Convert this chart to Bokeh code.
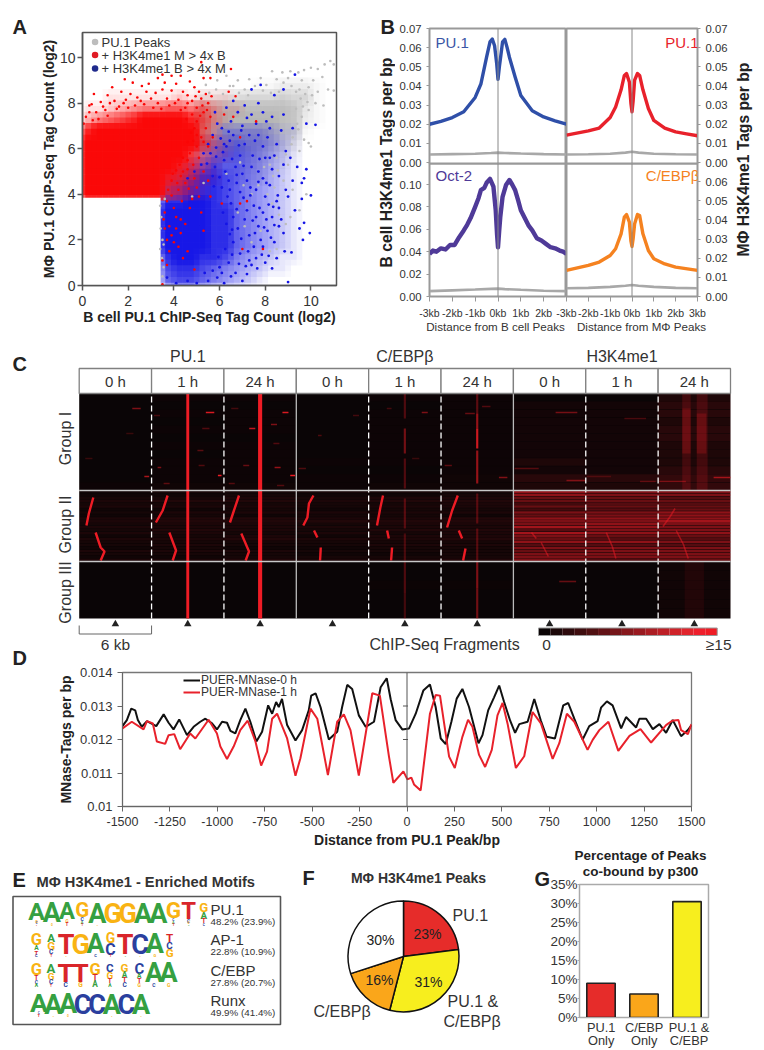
from math import pi
from bokeh.plotting import figure
from bokeh.layouts import column, row
from bokeh.models import (Label, Span, FixedTicker, NumeralTickFormatter, Legend, LegendItem,
                          ColumnDataSource, Range1d)
from bokeh.core.properties import value
from bokeh.embed import file_html
from bokeh.resources import INLINE

FONT = "Liberation Sans"
TXT = "#333333"
ORIGIN = {}

a_y_edges = [0, .5, 1, 1.5, 2, 2.5, 3, 3.5, 3.85, 4.5, 5, 5.5, 6, 6.5, 7, 7.5, 8, 8.5, 9]
a_gray = ["0000000000000001122210", "0000000000223455565510", "0000000000678888887310", "0000000000889999987210",
          "0000000000889999876100", "0000000000889998753000", "0000000000245666421000", "0000000000123344210000",
          "0000000000001223100000", "0000000000000000000000", "0000000000000000000000", "0000000000000000000000",
          "0000000000000000000000", "0000000000000000000000", "0000000000000000000000", "0000000000000000000000",
          "0000000000000000000000", "0000000000000000000000"]
a_red = ["0000000000000000000000", "0011111121111000000000", "1123455665531100000000", "3567899998631000000000",
         "8999999999520000000000", "9999999999631000000000", "9999999997421000000000", "9999999986310000000000",
         "9999999875210000000000", "9999999653100000000000", "0000000000000000000000", "0000000000000000000000",
         "0000000000000000000000", "0000000000000000000000", "0000000000000000000000", "0000000000000000000000",
         "0000000000000000000000", "0000000000000000000000"]
a_blue = ["0000000000000000000000", "0000000000000000000000", "0000000000000000000000", "0000000000000000000000",
          "0000000000013333211000", "0000000000234544321000", "0000000001356654321000", "0000000025676654321000",
          "0000000357887654321000", "0000000678887654321000", "0000000889987654321000", "0000000999988654321000",
          "0000000999988654321000", "0000000999988654321000", "0000000999988654321000", "0000000899887543211000",
          "0000000788765432110000", "0000000677654321000000"]
red_pts = [(5.2,9.8),(6.5,9.5),(3.5,9.25),(3.9,9.2),(4.3,9.2),(5.3,9.1),(5.6,9.1),(1.85,9.05),(2.2,8.9),(3.3,9.1),
           (2.9,8.85),(1.3,8.7),(2.6,8.75),(3.6,8.9),(4.1,8.85),(4.7,8.95),(4.9,8.7),(0.5,8.4),(1.1,8.35),(1.7,8.5),
           (2.1,8.4),(2.8,8.5),(3.2,8.45),(3.5,8.6),(3.9,8.55),(4.4,8.5),(4.6,8.35),(5.1,8.5),(5.4,8.4),(0.3,7.9),
           (0.8,8.05),(1.4,8.1),(1.9,8.15),(2.4,8.25),(3.0,8.2),(3.7,8.2),(4.2,8.15),(4.8,8.1),(5.2,8.2),(5.5,8.0),
           (0.15,7.4),(0.05,7.1),(0.6,7.6),(1.0,7.7),(1.6,7.85),(4.5,7.8),(5.0,7.8),(5.3,7.6),(5.6,7.4),(5.0,7.2),
           (4.9,6.9),(5.4,6.9),(5.7,6.5),(6.2,7.5),(6.6,7.4),(5.2,6.5),(5.5,6.1),(5.0,6.1),(4.7,5.8),(5.1,5.6),
           (6.4,8.5),(6.7,8.3),(7.6,7.2),(6.9,6.5),(4.6,5.1),(5.3,5.0),(4.3,4.8),(4.5,4.5),(4.9,4.7),(3.9,4.6),
           (4.2,4.2),(3.7,3.7),(4.0,3.4),(3.6,3.2),(3.55,2.9),(3.8,2.6),(4.1,3.0),(4.3,2.9),(4.5,2.7),(3.9,2.2),
           (3.6,2.5),(4.3,2.3),(4.0,1.9),(4.2,1.7),(4.6,1.5),(3.8,1.5),(3.5,1.1),(3.7,0.9),(4.4,1.2),(3.5,0.05),
           (5.1,3.9),(5.6,3.9),(6.1,3.6),(6.9,3.6),(7.2,3.7),(5.3,2.4),(7.0,1.6),(7.9,1.6),(4.7,3.4),(4.9,0.7),
           (0.4,7.95),(0.9,7.85),(1.2,8.0),(1.5,7.75),(1.8,8.0),(2.0,7.8),(2.3,7.9),(2.55,8.1),(2.7,7.95),(3.1,7.8),
           (3.3,8.0),(3.45,7.75),(3.8,7.9),(4.05,8.0),(4.3,7.7),(4.6,8.0),(4.95,8.3),(5.25,7.9),(5.45,7.7),(5.65,8.3),
           (0.7,7.3),(1.1,7.45),(0.3,7.6),(0.45,7.25),(4.55,7.3),(4.8,7.5),(5.15,7.45),(4.75,6.7),(5.0,6.6),(5.3,6.3),
           (4.6,6.3),(4.85,6.35),(4.4,5.6),(4.6,5.5),(4.85,5.3),(4.25,5.3),(4.1,5.05),(4.4,5.0),(3.95,4.9),(4.15,4.5),
           (4.65,4.25),(5.0,4.3),(5.5,4.6),(3.75,4.2),(3.9,3.95),(4.35,3.7),(4.8,3.8),(5.2,3.2),(3.7,2.0),(4.1,2.5)]
blue_pts = [(9.3,9.25),(8.8,8.6),(8.4,8.35),(7.8,8.8),(7.4,8.6),(7.7,8.0),(6.6,8.1),(7.1,7.9),(6.3,7.8),(5.8,7.6),
            (7.4,7.5),(8.3,7.4),(8.8,7.5),(10.2,7.05),(9.8,7.1),(9.2,6.9),(8.7,6.8),(8.2,6.9),(7.7,6.6),(8.5,6.2),
            (8.9,5.9),(9.1,5.6),(8.8,5.3),(8.3,5.1),(8.0,5.6),(8.6,4.8),(9.2,4.6),(9.6,4.5),(9.8,5.1),(9.7,4.7),
            (10.0,3.95),(9.6,3.8),(9.3,3.3),(9.0,3.9),(8.6,3.4),(8.7,2.9),(8.3,3.0),(8.8,2.3),(8.4,1.9),(8.1,2.4),
            (9.7,2.75),(9.5,2.5),(9.95,2.3),(9.65,2.0),(9.15,1.45),(8.85,1.5),(8.5,1.2),(8.3,0.75),(9.0,0.15),(7.9,1.7),
            (7.6,1.2),(7.4,0.9),(7.2,0.5),(7.0,0.2),(6.7,0.55),(6.2,0.1),(5.9,0.35),(6.4,1.0),(6.9,1.4),(7.3,2.2),
            (7.7,2.6),(7.9,3.2),(7.5,3.5),(8.0,3.9),(7.6,4.2),(7.2,4.6),(7.9,4.7),(7.4,5.2),(6.9,5.7),(7.1,6.2),
            (6.6,6.6),(6.1,6.9),(5.7,6.6),(5.5,6.2),(5.3,5.8),(6.3,6.1),(6.7,5.2),(6.4,4.6),(6.9,4.1),(6.5,3.6),
            (5.8,5.2),(5.2,5.3),(4.9,5.0),(4.6,4.7),(7.8,2.0),(7.1,2.9),(6.8,2.5),(7.5,1.7),(6.6,1.9),(6.3,2.7),
            (8.2,4.4),(8.9,4.2),(8.4,5.7),(7.9,6.1),(8.1,6.5),(7.0,7.0),(6.5,7.2),(7.6,7.1),(5.9,7.1),(6.8,7.6),
            (7.3,1.1),(6.5,0.4),(6.0,0.8),(5.5,0.2),(5.0,0.1),(4.6,0.2),(4.1,0.1),(3.7,0.35),(8.0,1.0),(8.6,2.6),
            (7.2,3.3),(6.2,5.5),(5.6,5.8),(6.1,4.3),(5.7,4.8),(7.7,5.0),(8.5,3.7),(9.4,5.2),(7.0,4.9),(6.6,3.0),
            (6.15,3.2),(6.35,3.9),(6.75,4.5),(7.05,3.85),(7.35,3.95),(6.55,1.35),(6.85,0.95),(6.25,1.6),(6.45,2.25),(6.95,2.05),
            (7.25,1.5),(7.55,2.3),(7.15,0.85),(7.65,0.75),(7.85,1.35),(8.15,1.3),(8.25,2.1),(8.05,2.9),(7.45,2.85),(7.75,3.4),
            (8.35,3.45),(8.15,3.55),(7.35,4.3),(7.05,5.25),(6.55,5.55),(6.25,5.0),(6.75,4.85),(7.45,5.7),(7.75,5.55),(6.15,5.85),
            (6.45,6.35),(6.85,6.15),(7.3,6.6),(5.85,6.05),(6.05,6.45),(5.45,5.35),(5.85,5.65),(6.0,4.75),(5.75,4.35),(6.45,4.2),
            (5.95,1.25),(6.1,0.55),(5.7,0.65),(5.35,0.55),(6.75,3.35),(6.55,2.45),(7.6,3.0),(7.95,2.55),(8.4,2.65),(8.55,3.95),
            (8.05,4.5),(7.7,4.55),(8.2,5.6),(7.55,6.35),(6.2,6.2),(6.95,6.8),(7.2,7.35),(6.4,6.75),(7.9,7.6),(8.05,7.2)]
gray_pts = [(10.85,9.85),(10.6,9.7),(11.0,9.7),(10.3,9.5),(10.0,9.55),(9.7,9.45),(9.45,9.35),(9.1,9.4),(8.75,9.35),(8.3,9.4),
            (8.5,9.05),(9.0,9.1),(9.6,9.0),(10.1,9.0),(10.5,9.15),(10.75,8.6),(11.0,8.55),(10.3,8.5),(9.9,8.7),(9.5,8.6),
            (7.8,9.1),(7.3,9.05),(6.8,9.0),(6.3,9.2),(5.9,9.0),(5.4,8.8),(6.6,8.75),(7.1,8.6),(7.9,8.55),(8.6,8.5),
            (10.2,8.0),(9.9,7.7),(9.6,7.4),(9.4,7.1),(9.2,6.5),(9.7,6.4),(10.0,6.1),(9.9,6.25),(9.5,5.9),(9.0,5.3),
            (9.2,4.2),(8.8,4.6),(8.5,5.6),(8.2,5.3),(7.7,4.4),(8.1,4.0),(8.4,4.3),(9.5,3.3),(8.9,2.7),(8.6,3.1),
            (3.4,3.5),(3.45,3.0),(3.42,2.5),(3.5,2.0),(3.4,1.6),(3.48,1.2),(3.55,0.8),(3.5,0.4),(3.6,3.8),(3.55,1.8),
            (7.4,1.9),(7.8,2.4),(8.2,1.5),(8.5,1.6),(7.1,2.6),(6.8,3.2),(5.3,4.5),(4.8,3.9),(6.3,4.9),(6.9,5.4),
            (5.55,8.45),(5.85,8.6),(6.15,8.4),(6.45,8.75),(6.85,8.45),(7.25,8.35),(7.55,8.75),(8.05,8.8),(8.25,8.45),(8.8,8.9),
            (9.15,8.75),(9.35,8.5),(9.75,8.4),(10.05,8.35),(9.55,8.2),(9.85,8.05),(9.35,7.75),(9.65,7.85),(9.45,6.85),(9.15,6.2),
            (8.9,5.75),(8.55,5.05),(7.95,5.2),(8.35,4.8),(7.4,4.0),(7.05,4.4),(9.8,4.0),(8.3,3.6),(9.1,3.0),(10.55,7.9)]
# ---------------------------------------------------------------- B: profiles (kb, tags per bp)
bpu1_x = [-3,-2.5,-2,-1.5,-1,-.75,-.5,-.35,-.25,-.15,-.06,0,.06,.12,.2,.3,.4,.5,.75,1,1.5,2,2.5,3]
bpu1_y = [.020,.0215,.0235,.0265,.034,.041,.055,.063,.0645,.061,.052,.0435,.050,.0555,.063,.0643,.060,.055,.0447,.035,.027,.0238,.0218,.020]
mpu1_x = [-3,-2,-1.5,-1,-.75,-.5,-.35,-.25,-.12,-.05,0,.05,.12,.25,.35,.5,.75,1,1.5,2,2.5,3]
mpu1_y = [.0143,.0165,.018,.0235,.029,.038,.0455,.0465,.042,.031,.0265,.032,.043,.0465,.0455,.038,.0282,.022,.018,.016,.015,.014]
oct2_x = [-3,-2.85,-2.7,-2.5,-2.3,-2.1,-1.9,-1.7,-1.5,-1.35,-1.2,-1,-.85,-.75,-.6,-.5,-.35,-.2,-.1,-.04,0,.05,.1,.2,.35,.5,.62,.75,.88,1,1.2,1.35,1.5,1.7,1.9,2.1,2.3,2.5,2.7,2.85,3]
oct2_y = [.038,.041,.040,.043,.042,.046,.046,.053,.059,.064,.070,.080,.088,.095,.097,.1015,.105,.098,.077,.055,.044,.058,.071,.089,.0995,.104,.100,.095,.086,.077,.069,.063,.059,.052,.050,.047,.044,.043,.041,.040,.038]
cebp_x = [-3,-2,-1.5,-1,-.75,-.5,-.35,-.25,-.12,-.05,0,.05,.12,.25,.35,.5,.75,1,1.5,2,3]
cebp_y = [.0136,.0162,.018,.0214,.0249,.0327,.0414,.0428,.0388,.029,.0261,.030,.0379,.0428,.0423,.0327,.024,.0197,.017,.0153,.0136]
ctl_x = [-3,-2,-1,-.3,0,.3,1,2,3]
bpu1_ctl = [.0042,.0044,.0046,.0050,.0052,.0050,.0047,.0044,.0042]
mpu1_ctl = [.0042,.0043,.0046,.0052,.0056,.0052,.0046,.0043,.0042]
oct2_ctl = [.0048,.0055,.0062,.0068,.0070,.0066,.0060,.0052,.0048]
cebp_ctl = [.0043,.0045,.0050,.0056,.0060,.0056,.0050,.0045,.0043]
# ---------------------------------------------------------------- C: heat map read as streaks / bands
panels = ["0 h", "1 h", "24 h"] * 3
triples = ["PU.1", "C/EBPβ", "H3K4me1"]
zig_a = [[(0,1.17,121),(0,.8,105),(0,.6,93)],[(0,1.36,86),(0,1.78,71),(0,2.1,67),(0,1.78,58)],
         [(1,1.33,123),(1,.92,108),(1,.36,96)],[(1,1.47,86),(1,2.03,68),(1,1.75,58)],
         [(2,1.25,123),(2,.83,108),(2,.5,96)],[(2,1.44,85),(2,2.08,67),(2,1.8,58)],
         [(3,1.42,123),(3,1.05,115),(3,.92,101),(3,.58,93)],[(3,1.47,88),(3,1.75,81)],[(3,2.03,71),(3,1.97,58)],
         [(4,1.19,123),(4,.97,111),(4,.69,93)],[(4,1.53,88),(4,1.67,80)],[(4,1.94,71),(4,1.86,58)],
         [(5,1.39,123),(5,.92,108),(5,.5,91)],[(5,1.47,88),(5,1.75,80)],[(5,2.03,70),(5,1.83,58)]]
zig_dim = [[(6,1.5,86),(6,1.9,80)],[(6,2.3,76),(6,2.9,62)],[(7,1.7,86),(7,2.2,72),(7,2.5,60)],
           [(8,.4,92),(8,1.0,102),(8,1.4,110)],[(8,1.5,88),(8,2.1,74),(8,2.5,60)]]
dashes = [(0,4.4,210,.7,.5),(0,5.4,142,.4,.7),(1,4.5,206,.7,.9),(1,5.5,143,.3,1),(1,.5,151,.3,.5),(1,3.8,168,.5,.35),
          (1,4.2,190,.6,.3),(1,.2,203,.5,.25),(1,1.0,135,.5,.35),(1,3.9,153,.5,.3),(2,2.1,190,.5,.8),(2,4.85,206,.5,.9),
          (2,4.2,151,.5,.6),(2,5.5,143,.4,1),(2,1.6,153,.5,.4),(2,3.9,194,.5,.5),(2,.4,135,.5,.3),(2,4.4,133,.6,.3),
          (2,.6,210,.6,.25),(2,4.1,175,.5,.3),(0,.5,160,.6,.2),(0,3.9,185,.6,.2),(3,.2,150,.6,.3),(3,1.8,183,.3,.3),
          (3,4.7,203,.5,.25),(4,4.4,206,.5,.5),(4,1.5,210,.4,.25),(4,3.6,160,.6,.2),(5,.3,153,.6,.35),(5,2.0,205,.8,.4),
          (5,4.8,141,.7,.5),(5,3.4,212,.7,.3),(6,3.5,206,1.8,.45),(6,.1,150,2.0,.3),(6,4.4,138,1.6,.45),(6,3.8,37,1.4,.4),
          (7,3.2,200,1.8,.25),(7,.1,142,2.0,.2),(7,4.5,137,1.3,.3),(8,4.6,141,1.4,.6),(8,.1,137,2.2,.4)]
center_dim = [(4,200,225,.3),(4,165,190,.45),(4,130,160,.3),(4,90,120,.3),(4,58,85,.25),(4,25,57,.3),(4,0,25,.25),
              (5,190,205,.6),(5,170,190,.85),(5,135,168,.6),(5,205,225,.35),(5,95,125,.3),(5,58,90,.3),(5,30,57,.5),(5,0,30,.45)]
rows_I = {0:"000000000001", 1:"101010101112", 2:"101110111112", 3:"000000001011", 4:"101111111012", 5:"111111111122",
          6:"011111112132", 7:"011111111132", 8:"233233222344"}
rows_II = {0:"112323121332323132213213", 1:"212423132443343232323213", 2:"223423231443332342213224",
           3:"212322132342323132212123", 4:"213423232343342332322123", 5:"223433231443343342322224",
           6:"775535365766848657465666", 7:"665545466767767547466664", 8:"664545577786667546466665"}
rows_III = {0:"000000", 1:"000000", 2:"000000", 3:"000000", 4:"001000", 5:"001000", 6:"000000", 7:"000000", 8:"111111"}
band_8 = [(2.0,2.7,128,225,.18),(3.2,4.1,128,225,.18),(2.2,3.8,0,57,.08),(2.0,2.7,165,210,.2),(3.2,4.0,165,205,.2)]
scale_colors = ["#0b0506","#1c0809","#2d0a0c","#3f0d0f","#501012","#621216","#741519","#87181c","#991a20","#ab1d23","#bd1f26","#cf2229","#e1242c","#ee1f2c","#ef1c25"]
# ---------------------------------------------------------------- D: MNase profiles
d0_x = [-1500,-1477,-1454,-1433,-1419,-1398,-1371,-1322,-1283,-1257,-1231,-1201,-1160,-1125,-1090,-1063,-1028,-1002,-975,-949,-931,-905,-879,-852,-826,-794,-764,-732,-711,-690,-676,-659,-632,-588,-553,-518,-505,-482,-456,-412,-368,-342,-315,-289,-254,-218,-174,-139,-107,-86,-60,-25,11,46,86,121,151,178,204,234,262,292,327,377,398,428,459,486,512,544,570,592,636,671,706,736,780,824,850,882,926,961,1005,1023,1054,1084,1129,1155,1208,1225,1261,1296,1331,1366,1401,1445,1481,1500]
d0_y = [.0124,.01258,.01292,.01287,.01258,.01238,.01255,.0124,.01275,.0125,.0123,.0126,.01213,.01238,.01253,.01262,.01248,.0123,.01253,.0125,.01226,.01218,.01258,.01292,.01253,.01194,.01223,.01302,.01277,.01312,.01297,.01321,.01243,.01197,.01228,.01287,.01331,.01338,.01297,.012,.01223,.01297,.01363,.01351,.01272,.01238,.01253,.01356,.01383,.0132,.01258,.0123,.01233,.01277,.01346,.01364,.01297,.01203,.01186,.01253,.01322,.01351,.01297,.01189,.01213,.01287,.01326,.01361,.01312,.01256,.0122,.01246,.01253,.01321,.01256,.01208,.01203,.01302,.01309,.01262,.012,.0124,.01255,.01295,.01314,.01302,.01233,.01267,.01236,.01262,.01262,.01231,.01246,.0122,.01258,.0121,.01228,.01243]
d1_x = [-1500,-1451,-1389,-1371,-1340,-1319,-1275,-1257,-1227,-1196,-1143,-1116,-1046,-1002,-984,-949,-914,-879,-840,-799,-769,-738,-711,-685,-632,-588,-562,-509,-473,-417,-368,-333,-298,-254,-183,-143,-95,-72,-19,2,23,37,72,121,151,174,222,252,292,322,345,380,412,447,477,504,530,574,618,662,706,768,803,843,882,952,979,1014,1062,1114,1173,1231,1287,1366,1398,1431,1445,1481,1500]
d1_y = [.01233,.01253,.0123,.01255,.01248,.01194,.01187,.01213,.01216,.01171,.01218,.01203,.01259,.01218,.01179,.01142,.01179,.01228,.01256,.01194,.01122,.01164,.01262,.01277,.01203,.01092,.01144,.01292,.01262,.01094,.01253,.01275,.01228,.01092,.01338,.01331,.01149,.01071,.01105,.01081,.01086,.01066,.01048,.01277,.01333,.01331,.01149,.01115,.01208,.01259,.01238,.01154,.01118,.01169,.01272,.01309,.01248,.01115,.0115,.01282,.01248,.01142,.01189,.01277,.01253,.01169,.01199,.01228,.01253,.01166,.01211,.01231,.01191,.01243,.01256,.01258,.01228,.01216,.01246]
# ---------------------------------------------------------------- E: motifs (letter, share of the stack, top to bottom)
motif_pu1 = [[("A",.75),("G",.12),("C",.08),("T",.05)],[("A",.92),("G",.08)],[("A",.72),("G",.14),("T",.14)],[("G",.62),("C",.16),("A",.12),("T",.1)],
             [("A",.95),("G",.05)],[("G",1)],[("G",1)],[("A",1)],[("A",1)],[("G",.68),("C",.1),("A",.12),("T",.1)],[("T",.72),("C",.14),("G",.08),("A",.06)],[("G",.4),("A",.3),("T",.2),("C",.1)]]
motif_ap1 = [[("G",.5),("A",.2),("T",.18),("C",.12)],[("A",.35),("G",.35),("C",.2),("T",.1)],[("T",.95),("G",.05)],[("G",1)],[("A",.88),("C",.12)],
             [("G",.42),("C",.48),("T",.1)],[("T",.95),("A",.05)],[("C",.95),("G",.05)],[("A",.88),("G",.12)],[("T",.35),("C",.3),("G",.35)]]
motif_cebp = [[("G",.5),("T",.2),("C",.15),("A",.15)],[("A",.4),("G",.3),("C",.2),("T",.1)],[("T",.8),("C",.2)],[("T",.8),("G",.2)],[("G",.5),("T",.25),("A",.25)],
              [("C",.35),("G",.3),("T",.2),("A",.15)],[("G",.35),("A",.25),("T",.2),("C",.2)],[("C",.45),("A",.2),("T",.2),("G",.15)],[("A",.85),("C",.15)],[("A",.85),("G",.15)]]
motif_runx = [[("A",.8),("C",.08),("T",.12)],[("A",.95),("G",.05)],[("A",.92),("G",.08)],[("C",1)],[("C",1)],[("A",.95),("G",.05)],[("C",1)],[("A",.95),("G",.05)]]
motif_names = ["PU.1", "AP-1", "C/EBP", "Runx"]
motif_pcts = ["48.2% (23.9%)", "22.8% (10.9%)", "27.8% (20.7%)", "49.9% (41.4%)"]
# ---------------------------------------------------------------- F, G
pie_values = [23, 31, 16, 30]
pie_colors = ["#e62c2a", "#f7ee1e", "#faa61a", "#ffffff"]
bar_cats = ["PU.1\nOnly", "C/EBP\nOnly", "PU.1 &\nC/EBP"]
bar_values = [9, 6.2, 30.5]
bar_colors = ["#e62c2a", "#faa61a", "#f7ee1e"]


def fig(x0, y0, x1, y1, fl, fr, ft, fb, xr, yr, **kw):
    """Figure that covers page box x0..x1, y0..y1 with the frame fl..fr, ft..fb."""
    p = figure(width=x1 - x0, height=y1 - y0, x_range=xr, y_range=yr, output_backend="svg", toolbar_location=None,
               min_border_left=fl - x0, min_border_right=x1 - fr, min_border_top=ft - y0, min_border_bottom=y1 - fb,
               background_fill_color=None, border_fill_color=None, **kw)
    p.grid.visible = False
    p.outline_line_color = None
    ORIGIN[p.id] = (fl, fb)
    return p


def note(p, text, px, py, size=14, bold=False, color=TXT, align="left", angle=0, font=FONT):
    ox, oy = ORIGIN[p.id]
    p.add_layout(Label(x=px - ox, y=oy - py, x_units="screen", y_units="screen", text=text,
                       text_font=font, text_font_size=f"{size}px", text_font_style="bold" if bold else "normal",
                       text_color=color, text_align=align, text_baseline="middle", angle=angle))


def style_axis(ax, size, color="#555555", lw=1.5, label_size=14, label_bold=True):
    ax.major_label_text_font = FONT
    ax.major_label_text_font_size = f"{size}px"
    ax.major_label_text_color = TXT
    ax.axis_line_color = color
    ax.axis_line_width = lw
    ax.major_tick_line_color = color
    ax.major_tick_line_width = lw
    ax.minor_tick_line_color = None
    ax.major_tick_out = 5
    ax.major_tick_in = 0
    ax.axis_label_text_font = FONT
    ax.axis_label_text_font_size = f"{label_size}px"
    ax.axis_label_text_font_style = "bold" if label_bold else "normal"
    ax.axis_label_text_color = "#222222"


def cells(table, edges, dx, dy, width=.5):
    """One pass of the binned table; four slightly shifted passes soften the bin edges."""
    L, R, B, T, AL = [], [], [], [], []
    for r, s in enumerate(table):
        j = len(edges) - 2 - r
        for i, ch in enumerate(s):
            if ch != "0":
                a = min(int(ch) / 9, .985)
                L.append(i * width + dx); R.append((i + 1) * width + dx); B.append(edges[j] + dy); T.append(edges[j + 1] + dy)
                AL.append(1 - (1 - a) ** .25)
    return dict(left=L, right=R, bottom=B, top=T, alpha=AL)


# ================================================================= page-wide layer for texts that lie outside a frame
sheet = figure(width=748, height=1040, x_range=Range1d(8, 756), y_range=Range1d(1048, 8), output_backend="svg", toolbar_location=None,
               min_border=0, background_fill_color=None, border_fill_color=None)
sheet.axis.visible = False; sheet.grid.visible = False; sheet.outline_line_color = None
ORIGIN[sheet.id] = (8, 1048)
for letter, px, py in (("A", 12, 26), ("B", 380, 26), ("C", 12, 363), ("D", 12, 657), ("E", 12, 879), ("F", 302, 877), ("G", 534, 878)):
    note(sheet, letter, px, py, 20, True, "#222222")
note(sheet, "Distance from B cell Peaks", 495, 326, 11.6, False, TXT, "center")
note(sheet, "Distance from MΦ Peaks", 641, 326, 11.6, False, TXT, "center")
note(sheet, "Percentage of Peaks", 640, 855, 13.5, True, "#222222", "center")
note(sheet, "co-bound by p300", 640, 871, 13.5, True, "#222222", "center")
for cat, px in zip(bar_cats, (600.7, 643.7, 688.5)):
    a, b = cat.split("\n")
    note(sheet, a, px, 1027, 12.8, False, TXT, "center")
    note(sheet, b, px, 1040, 12.8, False, TXT, "center")

# ================================================================= A
pa = fig(8, 8, 372, 345, 82, 336, 32, 285, Range1d(0, 11.12), Range1d(0, 11.1))
pa.xaxis.ticker = FixedTicker(ticks=[0, 2, 4, 6, 8, 10])
pa.yaxis.ticker = FixedTicker(ticks=[0, 2, 4, 6, 8, 10])
style_axis(pa.xaxis[0], 14); style_axis(pa.yaxis[0], 14)
pa.xaxis.axis_label = "B cell PU.1 ChIP-Seq Tag Count (log2)"
pa.yaxis.axis_label = "MΦ PU.1 ChIP-Seq Tag Count (log2)"
pa.xaxis.axis_label_standoff = 0
pa.yaxis.axis_label_standoff = 0
pa.yaxis.major_label_standoff = 2
pa.outline_line_color = "#555555"; pa.outline_line_width = 1.5
for tbl, col in ((a_gray, "#b6b6b6"), (a_blue, "#1414e6"), (a_red, "#fa0505")):
    for dx, dy in ((-.125, -.125), (.125, -.125), (-.125, .125), (.125, .125)):
        pa.quad(source=ColumnDataSource(cells(tbl, a_y_edges, dx, dy)), left="left", right="right", top="top", bottom="bottom",
                fill_color=col, fill_alpha="alpha", line_color=None)
pa.quad(left=[-1], right=[3.42], bottom=[-1], top=[3.85], fill_color="#ffffff", line_color=None)
pa.scatter([q[0] for q in gray_pts], [q[1] for q in gray_pts], size=2.6, color="#bdbdbd", line_color=None)
pa.scatter([q[0] for q in blue_pts], [q[1] for q in blue_pts], size=2.8, color="#1414e6", line_color=None)
pa.scatter([q[0] for q in red_pts], [q[1] for q in red_pts], size=2.6, color="#fa0505", line_color=None)
for lab, py, col in (("PU.1 Peaks", 41.5, "#bdbdbd"), ("+ H3K4me1 M > 4x B", 54.5, "#e01b24"), ("+ H3K4me1 B > 4x M", 68, "#1f2a8c")):
    note(pa, lab, 101, py, 13)
    pa.scatter([0.55], [(285 - py) / 22.8], size=6.5, color=col, line_color=None)

# ================================================================= B
def profile(p, xs, ys, col, cx, cy, lw=3.4):
    p.add_layout(Span(location=0, dimension="height", line_color="#888888", line_width=1))
    p.line(cx, cy, line_color="#a8a8a8", line_width=2.6)
    p.line(xs, ys, line_color=col, line_width=lw, line_join="round")

def kb_axis(ax, ticks):
    ax.ticker = FixedTicker(ticks=ticks)
    ax.major_label_overrides = {t: f"{t}kb" for t in ticks}

RNG = lambda: Range1d(-3, 3)
b1 = fig(395, 8, 566, 168, 429, 566, 28, 163, RNG(), Range1d(-.0005, .07))
b2 = fig(566, 8, 730, 168, 566, 703, 28, 163, RNG(), Range1d(-.0005, .07), y_axis_location="right")
b3 = fig(395, 163, 566, 345, 429, 566, 163, 296, RNG(), Range1d(0, .11875))
b4 = fig(548, 163, 730, 345, 566, 703, 163, 296, RNG(), Range1d(0, .0694), y_axis_location="right", margin=(0, 0, 0, -18))
for p in (b1, b2, b3, b4):
    p.outline_line_color = "#999999"; p.outline_line_width = 2
    style_axis(p.xaxis[0], 10.5, "#999999", 1, 11.4, False)
    style_axis(p.yaxis[0], 11.3, "#999999", 1)
    p.yaxis[0].major_tick_out = 3
    p.yaxis[0].formatter = NumeralTickFormatter(format="0.00")
b1.xaxis.visible = False; b2.xaxis.visible = False
b1.yaxis.ticker = FixedTicker(ticks=[0, .01, .02, .03, .04, .05, .06, .07])
b2.yaxis.ticker = FixedTicker(ticks=[0, .01, .02, .03, .04, .05, .06, .07])
b3.yaxis.ticker = FixedTicker(ticks=[0, .02, .04, .06, .08, .10])
b4.yaxis.ticker = FixedTicker(ticks=[0, .01, .02, .03, .04, .05, .06])
kb_axis(b3.xaxis[0], [-3, -2, -1, 0, 1, 2])
kb_axis(b4.xaxis[0], [-3, -2, -1, 0, 1, 2, 3])
profile(b1, bpu1_x, bpu1_y, "#2f4fa8", ctl_x, bpu1_ctl)
profile(b2, mpu1_x, mpu1_y, "#e8212b", ctl_x, mpu1_ctl)
profile(b3, oct2_x, oct2_y, "#4f3a98", ctl_x, oct2_ctl, 4.4)
profile(b4, cebp_x, cebp_y, "#f58220", ctl_x, cebp_ctl)
note(b1, "PU.1", 435, 42, 15, False, "#3a56a5")
note(b2, "PU.1", 698, 42, 15, False, "#e8212b", "right")
note(b3, "Oct-2", 435, 175, 15, False, "#4f3a98")
note(b4, "C/EBPβ", 699, 175, 15, False, "#f58220", "right")
strip_l = fig(372, 8, 395, 345, 372, 395, 8, 345, Range1d(0, 1), Range1d(0, 1))
strip_l.axis.visible = False
note(strip_l, "B cell H3K4me1 Tags per bp", 386, 162, 15.7, True, "#222222", "center", pi / 2)
strip_r = fig(730, 8, 756, 345, 730, 756, 8, 345, Range1d(0, 1), Range1d(0, 1))
strip_r.axis.visible = False
note(strip_r, "MΦ H3K4me1 Tags per bp", 743, 159, 15.7, True, "#222222", "center", pi / 2)
B = column(row(b1, b2), row(b3, b4, margin=(-5, 0, 0, 0)))

# ================================================================= C
KX = 651.3 / 54
pc = figure(width=748, height=310, x_range=Range1d((8 - 78.7) / KX, (756 - 78.7) / KX), y_range=Range1d(-37, 273),
            output_backend="svg", toolbar_location=None, min_border=0, background_fill_color=None, border_fill_color=None)
pc.axis.visible = False; pc.grid.visible = False; pc.outline_line_color = None
ORIGIN[pc.id] = (8, 655)
pc.quad(left=[0], right=[54], bottom=[0], top=[225], fill_color="#0a0506", line_color=None)
RED = "#ee1c25"
L, R, Bt, T, AL = [], [], [], [], []
def strip_rows(tbl, y_top, h, k):
    for pn, s in tbl.items():
        f = 1.0 if pn >= 6 else .32
        for r, ch in enumerate(s):
            if ch != "0":
                L.append(pn * 6); R.append(pn * 6 + 6); T.append(y_top - r * h); Bt.append(y_top - (r + 1) * h + .4); AL.append(int(ch) / 9 * k * f)
strip_rows(rows_I, 225, 97 / 12, .4)
strip_rows(rows_II, 128, 71 / 24, .75)
strip_rows(rows_III, 57, 57 / 6, .3)
pc.quad(left=L, right=R, bottom=Bt, top=T, fill_color=RED, fill_alpha=AL, line_color=None)
pc.quad(left=[6 * 8 + b[0] for b in band_8], right=[6 * 8 + b[1] for b in band_8], bottom=[b[2] for b in band_8],
        top=[b[3] for b in band_8], fill_color=RED, fill_alpha=[b[4] for b in band_8], line_color=None)
pc.quad(left=[9 - .12, 15 - .17], right=[9 + .12, 15 + .17], bottom=[0, 0], top=[225, 225], fill_color=RED, line_color=None)
pc.quad(left=[6 * c[0] + 3 - .09 for c in center_dim], right=[6 * c[0] + 3 + .09 for c in center_dim], bottom=[c[1] for c in center_dim],
        top=[c[2] for c in center_dim], fill_color=RED, fill_alpha=[c[3] for c in center_dim], line_color=None)
pc.segment(x0=[6 * d[0] + d[1] for d in dashes], x1=[6 * d[0] + d[1] + d[3] for d in dashes], y0=[d[2] for d in dashes], y1=[d[2] for d in dashes],
           line_color=RED, line_alpha=[d[4] for d in dashes], line_width=1.6)
for z in zig_a:
    pc.line([6 * q[0] + q[1] for q in z], [q[2] for q in z], line_color=RED, line_width=2.4)
for z in zig_dim:
    pc.line([6 * q[0] + q[1] for q in z], [q[2] for q in z], line_color=RED, line_alpha=.5, line_width=1.6)
for i in range(1, 9):
    if i % 3:
        pc.segment(x0=[6 * i], x1=[6 * i], y0=[0], y1=[225], line_color="#ffffff", line_width=1.3, line_dash="6 3")
    else:
        pc.segment(x0=[6 * i], x1=[6 * i], y0=[0], y1=[225], line_color="#bbbbbb", line_width=1.3)
pc.segment(x0=[0, 0], x1=[54, 54], y0=[128, 57], y1=[128, 57], line_color="#c8c8c8", line_width=1.3)
pc.quad(left=[6 * i for i in range(9)], right=[6 * i + 6 for i in range(9)], bottom=[225] * 9, top=[250] * 9,
        fill_color="#ffffff", line_color="#808080", line_width=1.3)
pc.text([6 * i + 3 for i in range(9)], [237.5] * 9, text=panels, text_font=value(FONT), text_font_size="15px", text_align="center", text_baseline="middle", text_color=TXT)
pc.text([18 * i + 9 for i in range(3)], [262] * 3, text=triples, text_font=value(FONT), text_font_size="16px", text_align="center", text_baseline="middle", text_color=TXT)
pc.scatter([6 * i + 3 for i in range(9)], [-5.5] * 9, marker="triangle", size=7.5, color="#222222", line_color=None)
pc.line([0, 0, 6, 6], [-7, -15.5, -15.5, -7], line_color="#666666", line_width=1)
sx0 = (538 - 78.7) / KX; sdx = (716.7 - 538) / KX / 15
pc.quad(left=[sx0 + i * sdx for i in range(15)], right=[sx0 + (i + 1) * sdx for i in range(15)], bottom=[-17] * 15, top=[-9.5] * 15,
        fill_color=scale_colors, line_color=None)
pc.quad(left=[sx0], right=[sx0 + 15 * sdx], bottom=[-17], top=[-9.5], fill_color=None, line_color="#999999", line_width=1)
note(pc, "Group I", 65, 438, 16, False, TXT, "center", pi / 2)
note(pc, "Group II", 65, 524, 16, False, TXT, "center", pi / 2)
note(pc, "Group III", 65, 592, 16, False, TXT, "center", pi / 2)
note(pc, "6 kb", 115, 644, 15.5, False, TXT, "center")
note(pc, "ChIP-Seq Fragments", 369, 644, 16)
note(pc, "0", 546, 644, 15.5, False, TXT, "center")
note(pc, "≥15", 731, 644, 15.5, False, TXT, "right")

# ================================================================= D
pd_ = fig(8, 650, 756, 850, 122, 691, 672, 807, Range1d(-1500, 1500), Range1d(.01, .014))
pd_.outline_line_color = "#777777"; pd_.outline_line_width = 1.3
xt = list(range(-1500, 1501, 250))
pd_.xaxis.ticker = FixedTicker(ticks=xt)
pd_.xaxis.major_label_overrides = {t: str(t) for t in xt}
pd_.yaxis.ticker = FixedTicker(ticks=[.01, .011, .012, .013, .014])
pd_.yaxis.major_label_overrides = {.01: "0.01", .011: "0.011", .012: "0.012", .013: "0.013", .014: "0.014"}
style_axis(pd_.xaxis[0], 12.5, "#666666", 1); style_axis(pd_.yaxis[0], 13, "#666666", 1)
pd_.xaxis.axis_label = "Distance from PU.1 Peak/bp"
pd_.yaxis.axis_label = "MNase-Tags per bp"
pd_.xaxis.axis_label_standoff = 3
pd_.yaxis.axis_label_standoff = 3
pd_.add_layout(Span(location=0, dimension="height", line_color="#555555", line_width=1))
pd_.scatter([-8, -8], [.012, .013], marker="dash", size=5, color="#555555")
r0 = pd_.line(d0_x, d0_y, line_color="#111111", line_width=2)
r1 = pd_.line(d1_x, d1_y, line_color="#e8212b", line_width=2)
for lab, ren, py in (("PUER-MNase-0 h", r0, 680.5), ("PUER-MNase-1 h", r1, 692)):
    lg = Legend(items=[LegendItem(label=lab, renderers=[ren])], location=(61, 807 - py - 7.5), padding=0, margin=0, spacing=0,
                glyph_width=17, glyph_height=12, label_height=12, label_standoff=1, background_fill_alpha=0, border_line_color=None,
                label_text_font=FONT, label_text_font_size="12px", label_text_color=TXT, label_text_baseline="middle")
    pd_.add_layout(lg, "center")

# ================================================================= E
pe = figure(width=292, height=198, x_range=Range1d(8, 300), y_range=Range1d(1048, 850), output_backend="svg", toolbar_location=None,
            min_border=0, background_fill_color=None, border_fill_color=None)
pe.axis.visible = False; pe.grid.visible = False; pe.outline_line_color = None
ORIGIN[pe.id] = (8, 1048)
pe.quad(left=[12.5], right=[280], top=[896], bottom=[1024], fill_color=None, line_color="#555555", line_width=1.6)
LETTER = {"A": "#35a041", "C": "#2b3f9e", "G": "#f9b313", "T": "#d9252a"}
lx, ly, lt, ls, lc = [], [], [], [], []
for motif, x0, w, y0 in ((motif_pu1, 28.5, 15.2, 902), (motif_ap1, 28.5, 14.8, 933), (motif_cebp, 28.5, 14.7, 963), (motif_runx, 31, 14.6, 993)):
    for i, stack in enumerate(motif):
        y = y0
        for letter, share in stack:
            slot = share * 23.5
            font = min(slot / .71, 27)
            lx.append(x0 + (i + .5) * w); ly.append(y + slot / 2); lt.append(letter)
            ls.append(f"{font:.1f}px"); lc.append(LETTER[letter])
            y += slot
pe.text(source=ColumnDataSource(dict(x=lx, y=ly, t=lt, s=ls, c=lc)), x="x", y="y", text="t", text_font_size="s", text_color="c",
        text_font=value("Roboto"), text_font_style="bold", text_align="center", text_baseline="middle")
for nm, pct, ny in zip(motif_names, motif_pcts, (909, 939, 970, 1000)):
    note(pe, nm, 210, ny, 15)
    note(pe, pct, 210, ny + 11.5, 9.8)
note(pe, "MΦ H3K4me1 - Enriched Motifs", 36, 881, 14.7, True, "#333333")

# ================================================================= F
pf = figure(width=230, height=198, x_range=Range1d(300, 530), y_range=Range1d(850, 1048), output_backend="svg", toolbar_location=None,
            min_border=0, background_fill_color=None, border_fill_color=None)
pf.axis.visible = False; pf.grid.visible = False; pf.outline_line_color = None
ORIGIN[pf.id] = (300, 1048)
turn = 2 * pi / sum(pie_values)
starts, ends, acc = [], [], pi / 2
for v in pie_values:
    starts.append(acc); acc -= v * turn; ends.append(acc)
cx, cy = 403.0, 1048 + 850 - 956.0
pf.wedge(x=[cx] * 4, y=[cy] * 4, radius=55.5, start_angle=ends, end_angle=starts, fill_color=pie_colors, line_color="#111111", line_width=1.5)
for v, px, py in zip(pie_values, (427, 428, 379, 380), (933, 981, 979, 939)):
    note(pf, f"{v}%", px, py, 14, False, "#222222", "center")
note(pf, "MΦ H3K4me1 Peaks", 418, 877, 14, True, "#333333", "center")
note(pf, "PU.1", 452, 915, 16)
note(pf, "PU.1 &", 447, 1001, 16)
note(pf, "C/EBPβ", 443, 1021, 16)
note(pf, "C/EBPβ", 313, 1011, 16)

# ================================================================= G
pg = fig(530, 850, 756, 1048, 579, 708, 884, 1017, Range1d(0, 3), Range1d(0, 35))
pg.outline_line_color = "#aaaaaa"; pg.outline_line_width = 1.5
bar_x = [i + .5 for i in range(len(bar_cats))]
pg.vbar(x=bar_x, top=bar_values, width=.66, fill_color=bar_colors, line_color="#222222", line_width=1.6)
pg.yaxis.ticker = FixedTicker(ticks=list(range(0, 36, 5)))
pg.yaxis.major_label_overrides = {t: f"{t}%" for t in range(0, 36, 5)}
style_axis(pg.yaxis[0], 13.5, "#aaaaaa", 1)
style_axis(pg.xaxis[0], 12.8, "#aaaaaa", 1)
pg.yaxis.major_tick_out = 2
pg.yaxis.major_label_standoff = 0
pg.xaxis.ticker = FixedTicker(ticks=[])

top = row(column(pa), column(strip_l), B, column(strip_r), margin=(-1040, 0, 0, 0))
bottom = row(column(pe), column(pf), column(pg))
root = column(row(sheet), top, row(pc), row(pd_, margin=(-5, 0, 0, 0)), bottom, margin=(8, 0, 0, 8))
open("out.html", "w").write(file_html(root, INLINE))
